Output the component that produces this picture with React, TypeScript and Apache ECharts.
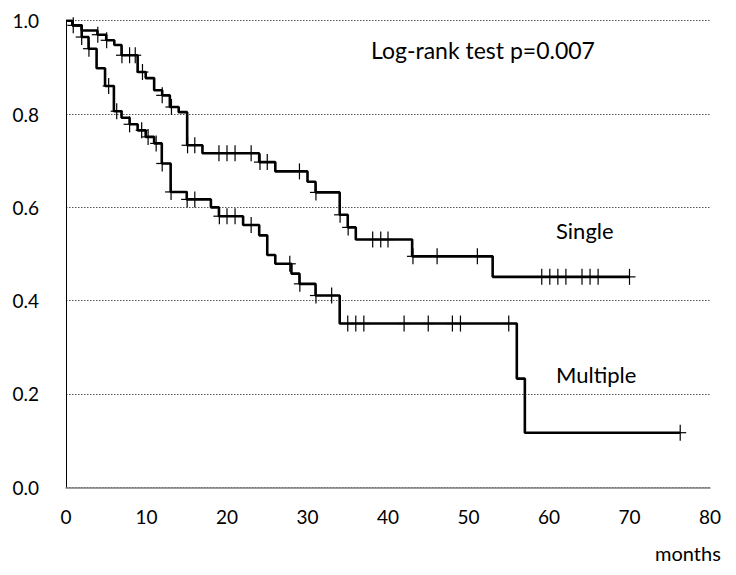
import React, { useEffect, useRef } from "react";
import * as echarts from "echarts";

// Kaplan-Meier steps: [time of drop (months), survival after drop]
const singleSteps: [number, number][] = [
  [0.8, 0.99], [1.95, 0.979], [3.9, 0.97], [5.0, 0.958], [6.0, 0.948], [6.9, 0.926],
  [8.9, 0.89], [9.9, 0.877], [10.95, 0.851], [11.95, 0.84], [12.9, 0.815], [14.0, 0.804],
  [15.05, 0.733], [16.95, 0.716], [24.0, 0.697], [26.0, 0.677], [30.0, 0.655], [31.0, 0.632],
  [34.0, 0.584], [35.0, 0.557], [36.0, 0.531], [43.0, 0.495], [53.0, 0.451],
];
const singleEnd = 70.0;
const singleCensored: number[] = [
  0.9, 3.95, 5.05, 6.95, 7.9, 8.6, 9.5, 11.95, 13.1, 15.1, 16.0, 19.0, 20.0, 21.0, 23.0,
  24.1, 25.0, 29.0, 31.05, 34.05, 35.05, 38.1, 39.1, 40.0, 43.1, 46.1, 51.1,
  59.1, 60.1, 61.1, 62.1, 64.1, 65.1, 66.1, 70.0,
];

const multipleSteps: [number, number][] = [
  [0.8, 0.99], [1.95, 0.965], [2.8, 0.94], [3.8, 0.898], [4.85, 0.86], [5.95, 0.806],
  [6.9, 0.792], [7.9, 0.778], [8.9, 0.765], [9.9, 0.751], [10.95, 0.737], [11.9, 0.694],
  [13.0, 0.633], [15.0, 0.617], [18.0, 0.6], [19.0, 0.581], [22.0, 0.562], [24.0, 0.54],
  [25.0, 0.498], [26.0, 0.479], [28.0, 0.458], [29.0, 0.436], [31.0, 0.411], [34.0, 0.351],
  [56.0, 0.233], [57.0, 0.117],
];
const multipleEnd = 76.3;
const multipleCensored: number[] = [
  1.95, 2.85, 5.3, 6.3, 7.9, 9.4, 10.2, 11.2, 11.95, 13.05, 15.05, 16.0, 19.05, 20.0, 21.0,
  23.0, 27.8, 29.05, 31.05, 33.0, 35.0, 36.0, 37.0, 42.0, 45.0, 48.0, 49.0, 55.0, 76.3,
];

const xTicks = [0, 10, 20, 30, 40, 50, 60, 70, 80];
const yTicks = [0, 0.2, 0.4, 0.6, 0.8, 1.0];

const FONT = "Lato";

function stepLine(steps: [number, number][], end: number): [number, number][] {
  const pts: [number, number][] = [[0, 1]];
  steps.forEach((s) => pts.push([s[0], s[1]]));
  pts.push([end, steps[steps.length - 1][1]]);
  return pts;
}

function valueAt(steps: [number, number][], t: number): number {
  let v = 1;
  for (const s of steps) {
    if (t >= s[0]) v = s[1];
  }
  return v;
}

function censorData(steps: [number, number][], times: number[]): [number, number][] {
  return times.map((t) => [t, valueAt(steps, t)]);
}

const plusRender = (params: any, api: any) => {
  const p = api.coord([api.value(0), api.value(1)]);
  const h = 8;
  const w = 6;
  return {
    type: "group",
    children: [
      { type: "line", shape: { x1: p[0], y1: p[1] - h, x2: p[0], y2: p[1] + h }, style: { stroke: "#000", lineWidth: 1.2 } },
      { type: "line", shape: { x1: p[0] - w, y1: p[1], x2: p[0] + w, y2: p[1] }, style: { stroke: "#000", lineWidth: 1.2 } },
    ],
  };
};

export default function App() {
  const ref = useRef<HTMLDivElement>(null);
  useEffect(() => {
    if (!ref.current) return;
    const chart = echarts.init(ref.current, undefined, { renderer: "svg" });
    chart.setOption({
      animation: false,
      backgroundColor: "#fff",
      grid: { left: 66, right: 26, top: 20.7, bottom: 87.7, containLabel: false },
      xAxis: {
        type: "value",
        min: xTicks[0],
        max: xTicks[xTicks.length - 1],
        interval: 10,
        axisLine: { show: true, lineStyle: { color: "#7f7f7f", width: 1.5 } },
        axisTick: { show: false },
        splitLine: { show: false },
        axisLabel: { color: "#000", fontFamily: FONT, fontSize: 19, margin: 20 },
      },
      yAxis: {
        type: "value",
        min: yTicks[0],
        max: yTicks[yTicks.length - 1],
        interval: 0.2,
        axisLine: { show: true, onZero: false, lineStyle: { color: "#000", width: 1 } },
        axisTick: { show: false },
        axisLabel: {
          color: "#000",
          fontFamily: FONT,
          fontSize: 19,
          margin: 27,
          formatter: (v: number) => v.toFixed(1),
        },
        splitLine: {
          show: true,
          lineStyle: { color: "#555", type: [1.5, 1.5], width: 1 },
        },
      },
      series: [
        {
          name: "Single",
          type: "line",
          step: "end",
          data: stepLine(singleSteps, singleEnd),
          symbol: "none",
          lineStyle: { color: "#000", width: 2.6 },
          z: 3,
        },
        {
          name: "Multiple",
          type: "line",
          step: "end",
          data: stepLine(multipleSteps, multipleEnd),
          symbol: "none",
          lineStyle: { color: "#000", width: 2.6 },
          z: 3,
        },
        {
          name: "Single censored",
          type: "custom",
          renderItem: plusRender,
          data: censorData(singleSteps, singleCensored),
          z: 4,
        },
        {
          name: "Multiple censored",
          type: "custom",
          renderItem: plusRender,
          data: censorData(multipleSteps, multipleCensored),
          z: 4,
        },
      ],
      graphic: [
        { type: "text", x: 371, y: 50, style: { text: "Log-rank test p=0.007", fill: "#000", font: `23px ${FONT}`, textVerticalAlign: "middle" } },
        { type: "text", x: 556, y: 230, style: { text: "Single", fill: "#000", font: `22px ${FONT}`, textVerticalAlign: "middle" } },
        { type: "text", x: 556, y: 374, style: { text: "Multiple", fill: "#000", font: `22px ${FONT}`, textVerticalAlign: "middle" } },
        { type: "text", x: 655, y: 553, style: { text: "months", fill: "#000", font: `20px ${FONT}`, textVerticalAlign: "middle" } },
      ],
    });
    return () => chart.dispose();
  }, []);
  return <div ref={ref} style={{ width: 736, height: 575, margin: -8 }} />;
}
